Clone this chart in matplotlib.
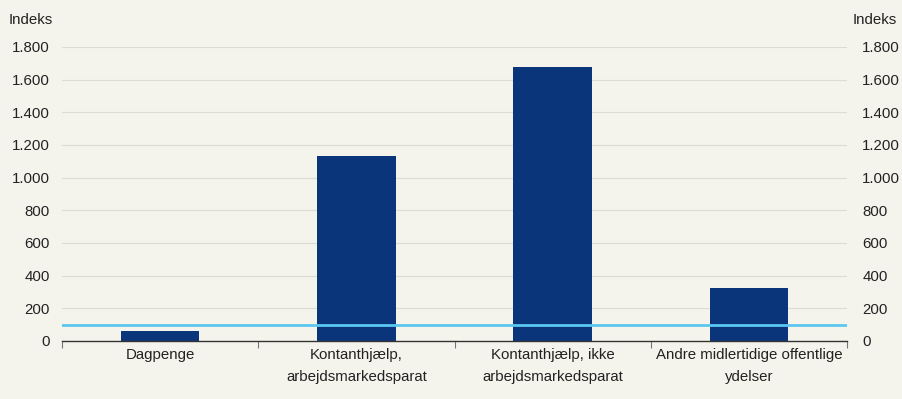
import numpy as np
import matplotlib.pyplot as plt
from matplotlib.ticker import FuncFormatter, FixedLocator

# ── Data ──────────────────────────────────────────────────────────────────
CATEGORIES = [
    "Dagpenge",
    "Kontanthjælp,\narbejdsmarkedsparat",
    "Kontanthjælp, ikke\narbejdsmarkedsparat",
    "Andre midlertidige offentlige\nydelser",
]
VALUES = [60, 1130, 1675, 325]
REFERENCE = 100
Y_TICKS = [0, 200, 400, 600, 800, 1000, 1200, 1400, 1600, 1800]

BG = "#f5f4ec"
BAR_COLOR = "#0a357a"
LINE_COLOR = "#5bc8ef"
TEXT_COLOR = "#222222"
FS = 10.8

plt.rcParams["font.family"] = ["Liberation Sans", "DejaVu Sans"]


def dk_thousands(v, _pos):
    return f"{int(v):,}".replace(",", ".")


fig = plt.figure(figsize=(9.02, 3.99), dpi=100, facecolor=BG)
ax = fig.add_axes([62 / 902, 1 - 341 / 399, 785 / 902, 294 / 399])
ax.set_facecolor(BG)

x = np.arange(len(CATEGORIES))
ax.bar(x, VALUES, width=0.4, color=BAR_COLOR, zorder=2)
ax.axhline(REFERENCE, color=LINE_COLOR, linewidth=2.0, zorder=3)

ax.set_xlim(-0.5, len(CATEGORIES) - 0.5)
ax.set_ylim(0, 1800)
ax.set_yticks(Y_TICKS)
ax.yaxis.set_major_formatter(FuncFormatter(dk_thousands))
ax.grid(axis="y", color="#dcdcd4", linewidth=0.8, zorder=0)

ax.set_xticks(x)
ax.set_xticklabels(CATEGORIES, fontsize=FS, color=TEXT_COLOR, linespacing=1.7)
ax.tick_params(axis="x", which="major", length=0, pad=5)
ax.xaxis.set_minor_locator(FixedLocator(np.arange(-0.5, len(CATEGORIES), 1.0)))
ax.tick_params(axis="x", which="minor", length=5, color="#777777", width=0.8)
ax.tick_params(axis="y", length=0, labelsize=FS, labelcolor=TEXT_COLOR, pad=9)

for side in ["top", "left", "right"]:
    ax.spines[side].set_visible(False)
ax.spines["bottom"].set_color("#333333")
ax.spines["bottom"].set_linewidth(1.0)

ax2 = ax.twinx()
ax2.set_ylim(ax.get_ylim())
ax2.set_yticks(Y_TICKS)
ax2.yaxis.set_major_formatter(FuncFormatter(dk_thousands))
ax2.tick_params(axis="y", length=0, labelsize=FS, labelcolor=TEXT_COLOR, pad=11)
for side in ["top", "left", "right", "bottom"]:
    ax2.spines[side].set_visible(False)

fig.text(9 / 902, 1 - 20 / 399, "Indeks", fontsize=FS, color=TEXT_COLOR, va="center", ha="left")
fig.text(897 / 902, 1 - 20 / 399, "Indeks", fontsize=FS, color=TEXT_COLOR, va="center", ha="right")

fig.savefig("out.png", dpi=100, facecolor=BG)
